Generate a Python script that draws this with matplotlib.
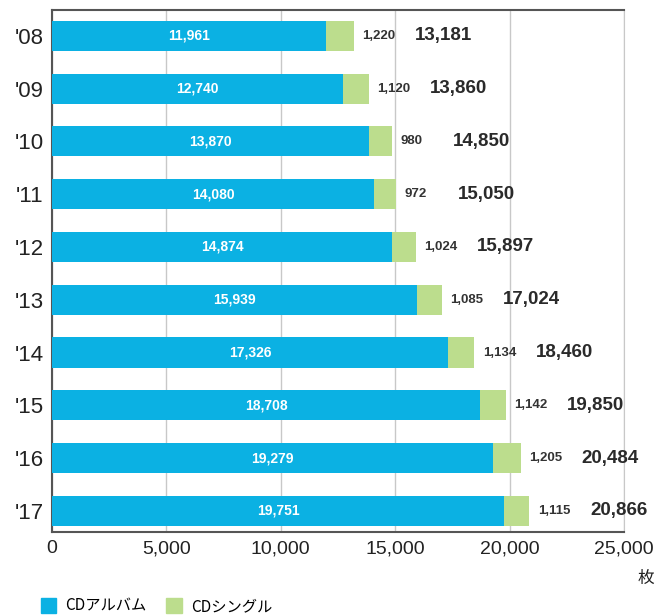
import matplotlib.pyplot as plt
import numpy as np

years = ["'08", "'09", "'10", "'11", "'12", "'13", "'14", "'15", "'16", "'17"]
album = [11961, 12740, 13870, 14080, 14874, 15939, 17326, 18708, 19279, 19751]
single = [1220, 1120, 980, 972, 1024, 1085, 1134, 1142, 1205, 1115]
total = [13181, 13860, 14850, 15050, 15897, 17024, 18460, 19850, 20484, 20866]

blue = '#0BB1E3'
green = '#BCDD8D'
num_font = ['Liberation Sans Narrow', 'Liberation Sans', 'DejaVu Sans']
jp_font = ['Noto Sans CJK JP', 'DejaVu Sans']

fig = plt.figure(figsize=(6.57, 6.15), dpi=100)
ax = fig.add_axes([0.0791, 0.135, 0.8707, 0.8487])

y = np.arange(len(years))
ax.barh(y, album, height=0.57, color=blue, zorder=3)
ax.barh(y, single, left=album, height=0.57, color=green, zorder=3)

for i in range(len(years)):
    ax.text(album[i] / 2, y[i], f'{album[i]:,}', color='white', fontsize=10,
            fontweight='bold', ha='center', va='center', family=num_font, zorder=4)
    end = album[i] + single[i]
    ax.annotate(f'{single[i]:,}', (end, y[i]), xytext=(6, 0), textcoords='offset points',
                fontsize=9.5, fontweight='bold', color='#333333', ha='left', va='center',
                family=num_font)
    ax.annotate(f'{total[i]:,}', (end, y[i]), xytext=(44, 0), textcoords='offset points',
                fontsize=13.5, fontweight='bold', color='#2a2a2a', ha='left', va='center',
                family=num_font)

ax.set_xlim(0, 25000)
ax.set_ylim(9.4, -0.49)
ax.set_xticks([0, 5000, 10000, 15000, 20000, 25000])
ax.set_xticklabels(['0', '5,000', '10,000', '15,000', '20,000', '25,000'],
                   fontsize=14, family=num_font, color='#222222')
ax.set_yticks(y)
ax.set_yticklabels(years, fontsize=16, family=num_font, color='#222222')
ax.tick_params(length=0, pad=6)
ax.grid(axis='x', color='#c8c8c8', linewidth=1, zorder=0)

for side in ['top', 'left', 'bottom']:
    ax.spines[side].set_color('#555555')
    ax.spines[side].set_linewidth(1.5)
ax.spines['right'].set_color('#c8c8c8')

fig.text(0.995, 0.06, '枚', fontsize=12, family=jp_font, ha='right', va='center', color='#222222')

handles = [plt.Rectangle((0, 0), 1, 1, color=blue), plt.Rectangle((0, 0), 1, 1, color=green)]
fig.legend(handles, ['CDアルバム', 'CDシングル'], loc='center left', bbox_to_anchor=(0.062, 0.014),
           ncol=2, frameon=False, prop={'family': jp_font, 'size': 11},
           borderpad=0, borderaxespad=0,
           handlelength=1.0, handleheight=1.1, handletextpad=0.6, columnspacing=1.3)

fig.savefig('out.png', dpi=100)
